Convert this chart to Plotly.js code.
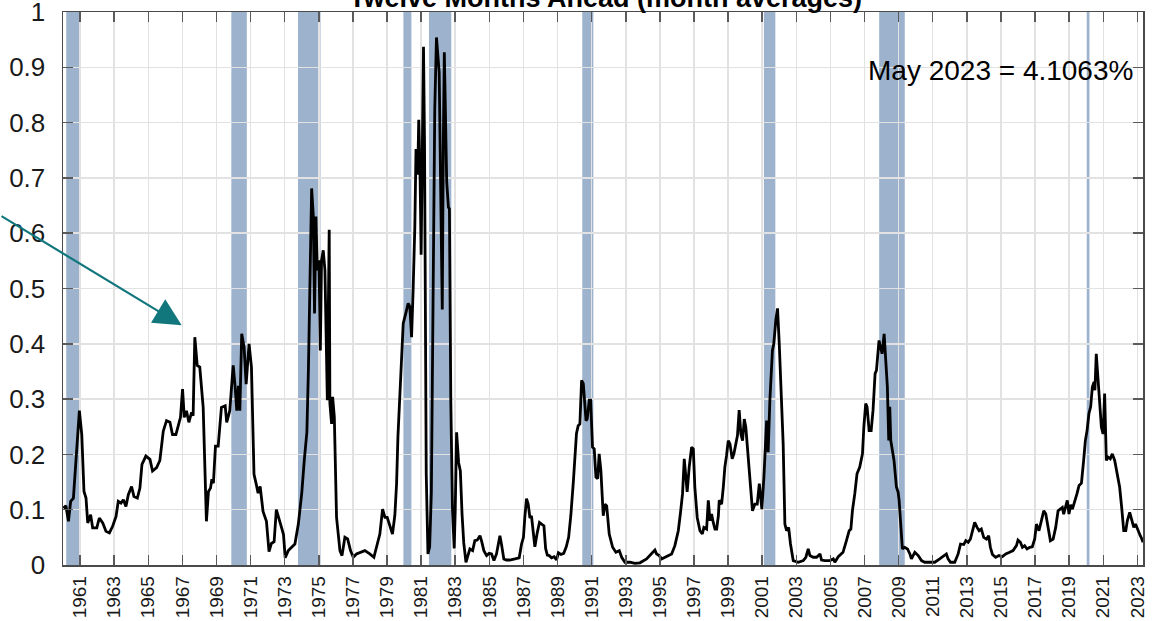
<!DOCTYPE html>
<html>
<head>
<meta charset="utf-8">
<script src="https://cdn.plot.ly/plotly-3.0.1.min.js"></script>
<style>html,body{margin:0;padding:0;background:#fff;}#chart{width:1156px;height:621px;}</style>
</head>
<body>
<div id="chart"></div>
<script>
// Decimal-year positions of the monthly readings
const years = [
1960.02,1960.17,1960.32,1960.45,1960.61,1960.77,1960.96,1961.1,1961.23,1961.35,1961.45,1961.62,1961.74,1961.98,
1962.13,1962.33,1962.52,1962.72,1962.91,1963.11,1963.24,1963.4,1963.54,1963.69,1963.83,1964.02,1964.16,1964.36,
1964.51,1964.63,1964.86,1965.1,1965.25,1965.49,1965.68,1965.88,1966.07,1966.27,1966.42,1966.62,1966.76,1966.89,
1967.01,1967.11,1967.24,1967.38,1967.54,1967.63,1967.73,1967.87,1968.02,1968.22,1968.41,1968.53,1968.65,1968.73,
1968.82,1968.94,1969.1,1969.29,1969.51,1969.6,1969.78,1969.98,1970.09,1970.19,1970.29,1970.37,1970.48,1970.62,
1970.74,1970.91,1971.05,1971.2,1971.34,1971.44,1971.56,1971.73,1971.93,1972.08,1972.22,1972.38,1972.51,1972.67,
1972.82,1972.93,1973.03,1973.21,1973.41,1973.6,1973.8,1974.0,1974.15,1974.25,1974.3,1974.39,1974.48,1974.58,
1974.68,1974.75,1974.83,1974.91,1975.01,1975.09,1975.16,1975.26,1975.36,1975.5,1975.61,1975.65,1975.75,1975.81,
1975.91,1976.04,1976.24,1976.36,1976.53,1976.69,1976.86,1977.02,1977.21,1977.41,1977.7,1977.99,1978.23,1978.43,
1978.58,1978.74,1978.88,1979.01,1979.17,1979.32,1979.46,1979.56,1979.64,1979.75,1979.95,1980.1,1980.24,1980.34,
1980.44,1980.53,1980.63,1980.7,1980.8,1980.86,1980.94,1981.0,1981.06,1981.14,1981.2,1981.3,1981.4,1981.5,
1981.6,1981.7,1981.8,1981.9,1982.06,1982.14,1982.24,1982.3,1982.36,1982.5,1982.6,1982.66,1982.74,1982.84,
1982.94,1983.0,1983.08,1983.2,1983.3,1983.4,1983.5,1983.63,1983.76,1983.86,1984.02,1984.15,1984.29,1984.45,
1984.54,1984.68,1984.84,1984.99,1985.13,1985.27,1985.42,1985.62,1985.71,1985.85,1986.0,1986.2,1986.5,1986.75,
1986.89,1987.0,1987.08,1987.18,1987.28,1987.38,1987.47,1987.57,1987.67,1987.8,1987.94,1988.1,1988.2,1988.3,
1988.4,1988.51,1988.65,1988.8,1988.94,1989.05,1989.2,1989.36,1989.51,1989.65,1989.78,1989.93,1990.11,1990.21,
1990.31,1990.41,1990.51,1990.67,1990.74,1990.86,1990.94,1991.05,1991.15,1991.25,1991.35,1991.44,1991.54,1991.68,
1991.78,1991.88,1992.03,1992.23,1992.42,1992.62,1992.76,1992.95,1993.24,1993.54,1993.83,1994.22,1994.51,1994.71,
1994.81,1994.96,1995.1,1995.3,1995.49,1995.69,1995.88,1996.08,1996.21,1996.33,1996.43,1996.53,1996.6,1996.72,
1996.86,1996.96,1997.05,1997.19,1997.35,1997.49,1997.58,1997.74,1997.84,1997.94,1998.03,1998.13,1998.23,1998.33,
1998.43,1998.48,1998.62,1998.72,1998.81,1998.91,1999.01,1999.11,1999.24,1999.34,1999.46,1999.55,1999.65,1999.75,
1999.85,1999.95,2000.04,2000.18,2000.32,2000.43,2000.57,2000.71,2000.83,2000.91,2000.98,2001.1,2001.2,2001.26,
2001.35,2001.45,2001.6,2001.68,2001.8,2001.9,2002.0,2002.13,2002.23,2002.33,2002.43,2002.55,2002.66,2002.82,
2003.11,2003.41,2003.56,2003.7,2003.8,2003.99,2004.19,2004.39,2004.48,2004.68,2004.97,2005.17,2005.26,2005.46,
2005.74,2005.94,2006.1,2006.2,2006.29,2006.43,2006.56,2006.72,2006.88,2006.96,2007.07,2007.15,2007.27,2007.39,
2007.5,2007.62,2007.7,2007.85,2007.93,2008.03,2008.15,2008.24,2008.34,2008.42,2008.48,2008.54,2008.64,2008.73,
2008.87,2008.97,2009.03,2009.13,2009.22,2009.36,2009.52,2009.66,2009.75,2009.95,2010.15,2010.34,2010.53,2010.83,
2011.12,2011.41,2011.65,2011.8,2011.9,2012.04,2012.29,2012.49,2012.63,2012.82,2012.94,2013.08,2013.21,2013.33,
2013.46,2013.6,2013.72,2013.85,2013.99,2014.15,2014.28,2014.38,2014.5,2014.69,2014.89,2015.08,2015.28,2015.51,
2015.71,2015.91,2016.0,2016.14,2016.26,2016.39,2016.53,2016.69,2016.84,2016.98,2017.08,2017.23,2017.37,2017.51,
2017.63,2017.76,2017.9,2018.06,2018.21,2018.35,2018.49,2018.6,2018.68,2018.8,2018.89,2018.99,2019.09,2019.19,
2019.33,2019.46,2019.58,2019.72,2019.85,2019.95,2020.05,2020.16,2020.26,2020.36,2020.46,2020.51,2020.59,2020.69,
2020.79,2020.89,2020.99,2021.08,2021.18,2021.28,2021.41,2021.53,2021.67,2021.81,2021.96,2022.08,2022.2,2022.32,
2022.41,2022.55,2022.67,2022.79,2022.89,2023.03,2023.17,2023.25,2023.33
];
// Probability of recession twelve months ahead
const probability = [
0.103,0.107,0.079,0.115,0.121,0.2,0.279,0.236,0.133,0.121,0.076,0.091,0.067,0.067,
0.085,0.076,0.061,0.058,0.07,0.088,0.115,0.112,0.118,0.106,0.127,0.142,0.124,0.121,
0.139,0.182,0.197,0.191,0.17,0.176,0.189,0.242,0.261,0.258,0.236,0.236,0.252,0.267,
0.318,0.267,0.279,0.258,0.276,0.27,0.412,0.361,0.358,0.285,0.079,0.133,0.139,0.155,
0.148,0.215,0.215,0.285,0.288,0.258,0.279,0.361,0.324,0.279,0.324,0.279,0.418,0.394,
0.327,0.4,0.358,0.164,0.145,0.13,0.142,0.097,0.079,0.024,0.039,0.042,0.1,0.085,
0.067,0.055,0.013,0.026,0.032,0.038,0.074,0.13,0.19,0.235,0.24,0.352,0.509,0.681,
0.63,0.455,0.63,0.533,0.551,0.388,0.551,0.569,0.533,0.298,0.606,0.292,0.255,0.304,
0.268,0.086,0.026,0.017,0.05,0.047,0.026,0.014,0.02,0.023,0.026,0.02,0.014,0.038,
0.056,0.101,0.086,0.086,0.068,0.056,0.09,0.147,0.232,0.298,0.437,0.455,0.473,0.467,
0.412,0.497,0.61,0.752,0.706,0.805,0.7,0.561,0.706,0.937,0.759,0.165,0.02,0.033,
0.132,0.495,0.825,0.954,0.891,0.693,0.462,0.759,0.927,0.693,0.647,0.644,0.297,0.099,
0.03,0.099,0.24,0.185,0.17,0.092,0.04,0.005,0.017,0.029,0.026,0.044,0.045,0.053,
0.044,0.026,0.017,0.021,0.02,0.008,0.02,0.053,0.038,0.011,0.009,0.009,0.011,0.013,
0.038,0.05,0.086,0.12,0.11,0.085,0.089,0.062,0.033,0.057,0.077,0.073,0.071,0.03,
0.018,0.017,0.013,0.015,0.009,0.022,0.019,0.021,0.033,0.05,0.09,0.152,0.238,0.252,
0.255,0.334,0.328,0.261,0.264,0.298,0.298,0.213,0.21,0.159,0.156,0.201,0.171,0.089,
0.11,0.107,0.056,0.032,0.023,0.026,0.014,0.005,0.005,0.003,0.004,0.011,0.02,0.027,
0.02,0.017,0.011,0.014,0.017,0.02,0.035,0.062,0.095,0.129,0.192,0.159,0.132,0.177,
0.213,0.21,0.141,0.086,0.062,0.056,0.068,0.065,0.117,0.08,0.092,0.077,0.065,0.065,
0.089,0.117,0.11,0.141,0.177,0.198,0.225,0.219,0.192,0.201,0.219,0.234,0.28,0.237,
0.225,0.264,0.249,0.189,0.147,0.098,0.11,0.11,0.147,0.126,0.101,0.159,0.219,0.261,
0.204,0.298,0.388,0.4,0.443,0.464,0.4,0.298,0.219,0.074,0.062,0.068,0.038,0.008,
0.005,0.008,0.014,0.029,0.017,0.014,0.014,0.02,0.009,0.008,0.008,0.011,0.005,0.015,
0.023,0.044,0.062,0.065,0.098,0.129,0.165,0.177,0.201,0.249,0.292,0.286,0.243,0.243,
0.28,0.346,0.352,0.406,0.397,0.382,0.418,0.376,0.322,0.225,0.286,0.225,0.201,0.189,
0.141,0.132,0.117,0.062,0.029,0.032,0.029,0.02,0.011,0.023,0.017,0.008,0.005,0.005,
0.005,0.011,0.017,0.02,0.011,0.005,0.005,0.02,0.038,0.037,0.044,0.041,0.047,0.062,
0.077,0.068,0.062,0.065,0.05,0.047,0.053,0.032,0.019,0.014,0.017,0.015,0.02,0.023,
0.026,0.035,0.045,0.041,0.032,0.035,0.029,0.032,0.033,0.047,0.074,0.062,0.08,0.098,
0.092,0.068,0.044,0.047,0.068,0.098,0.101,0.104,0.092,0.107,0.117,0.092,0.109,0.101,
0.114,0.129,0.144,0.148,0.189,0.225,0.243,0.274,0.286,0.322,0.331,0.316,0.382,0.34,
0.298,0.249,0.237,0.31,0.189,0.195,0.192,0.201,0.189,0.165,0.141,0.104,0.062,0.062,
0.08,0.095,0.08,0.068,0.074,0.062,0.053,0.048,0.041063
];
// NBER recession periods (shaded), decimal years
const recessionStart = [1960.19, 1969.87, 1973.78, 1979.96, 1981.46, 1990.45, 2001.1, 2007.86, 2020.03];
const recessionEnd   = [1961.03, 1970.78, 1975.1, 1980.43, 1982.77, 1991.1, 2001.77, 2009.36, 2020.19];
// Axis ticks
const xTickYears = [1961,1963,1965,1967,1969,1971,1973,1975,1977,1979,1981,1983,1985,1987,1989,1991,1993,1995,1997,1999,2001,2003,2005,2007,2009,2011,2013,2015,2017,2019,2021,2023];
const xTickLabels = xTickYears.map(String);
const yTickVals = [0,0.1,0.2,0.3,0.4,0.5,0.6,0.7,0.8,0.9,1];
const yTickLabels = ['0','0.1','0.2','0.3','0.4','0.5','0.6','0.7','0.8','0.9','1'];
// Texts
const titleText = 'Twelve Months Ahead (month averages)';
const lastLabel = 'May 2023';
const arrowTarget = {x: 1966.96, y: 0.4335};

const FONT = 'Arial, "Liberation Sans", sans-serif';
const lastVal = probability[probability.length - 1];

const shapes = recessionStart.map((s, i) => ({
  type: 'rect', xref: 'x', yref: 'paper', x0: s, x1: recessionEnd[i], y0: 0, y1: 1,
  fillcolor: 'rgba(140,166,196,0.85)', line: {width: 0}, layer: 'below'
}));

const trace = {
  x: years, y: probability, type: 'scatter', mode: 'lines',
  line: {color: '#000000', width: 2.8}, hoverinfo: 'x+y'
};

const axisCommon = {
  showline: true, linecolor: '#4a4a4a', linewidth: 1.5, mirror: 'ticks',
  ticks: 'inside', ticklen: 10, tickwidth: 1.5, tickcolor: '#5a5a5a',
  showgrid: true, gridcolor: '#e2e2e2', gridwidth: 1.5, zeroline: false,
  tickmode: 'array', ticklabeloverflow: 'allow'
};

const layout = {
  width: 1156, height: 621,
  margin: {l: 63, r: 13, t: 12, b: 56, pad: 0},
  paper_bgcolor: '#ffffff', plot_bgcolor: '#ffffff',
  showlegend: false,
  font: {family: FONT, color: '#1a1a1a'},
  xaxis: Object.assign({}, axisCommon, {
    range: [1960.0, 2023.33],
    tickvals: xTickYears, ticktext: xTickLabels,
    tickangle: -90, tickfont: {family: FONT, size: 19, color: '#1a1a1a'},
    ticklabelstandoff: 2
  }),
  yaxis: Object.assign({}, axisCommon, {
    range: [0, 1],
    tickvals: yTickVals, ticktext: yTickLabels,
    tickfont: {family: FONT, size: 26, color: '#1a1a1a'},
    ticklabelstandoff: 11
  }),
  shapes: shapes,
  annotations: [
    {
      xref: 'paper', yref: 'paper', x: 0.502, y: 1, xanchor: 'center', yanchor: 'bottom',
      text: '<b>' + titleText + '</b>', showarrow: false, yshift: -3,
      font: {family: FONT, size: 27, color: '#000'}
    },
    {
      xref: 'paper', yref: 'paper', x: 0.9926, y: 0.895, xanchor: 'right', yanchor: 'middle',
      text: lastLabel + ' = ' + (lastVal * 100).toFixed(4) + '%', showarrow: false,
      font: {family: FONT, size: 28, color: '#000'}
    },
    {
      xref: 'x', yref: 'y', x: arrowTarget.x, y: arrowTarget.y,
      ax: -200, ay: -110, axref: 'pixel', ayref: 'pixel',
      text: '', showarrow: true, arrowhead: 2, arrowsize: 2.5, arrowwidth: 2.2,
      arrowcolor: '#12777d', standoff: 0
    }
  ]
};

Plotly.newPlot('chart', [trace], layout, {displayModeBar: false, staticPlot: true});
</script>
</body>
</html>
